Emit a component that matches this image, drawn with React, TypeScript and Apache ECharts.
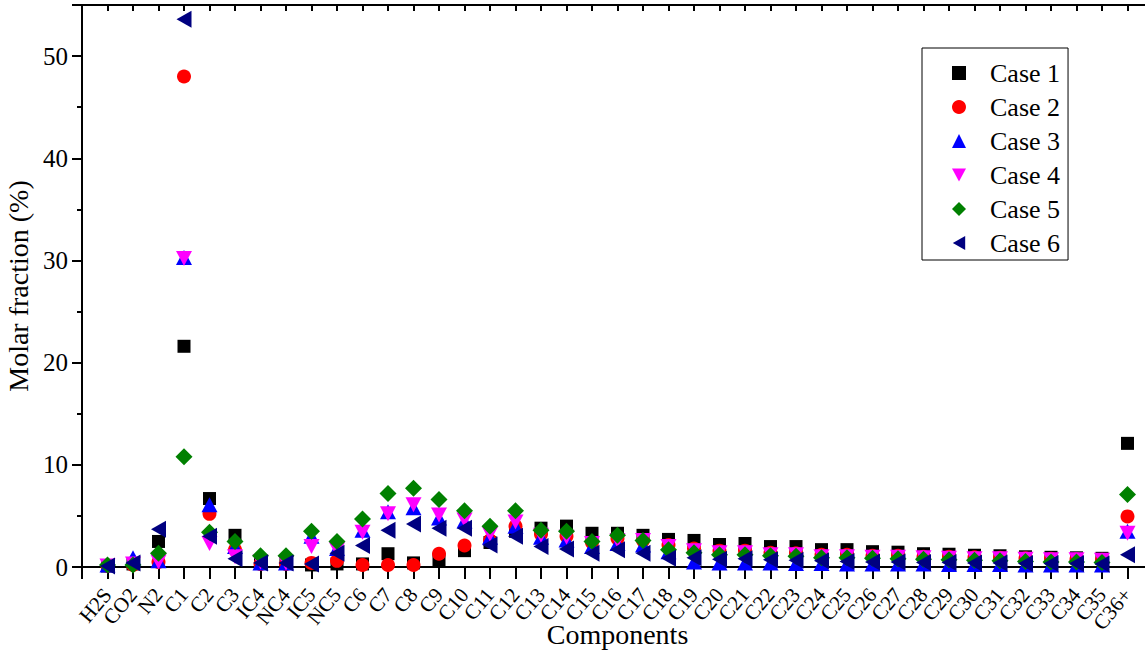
import React, { useEffect, useRef } from "react";
import * as echarts from "echarts";

const categories = [
  "H2S", "CO2", "N2", "C1", "C2", "C3", "IC4", "NC4", "IC5", "NC5",
  "C6", "C7", "C8", "C9", "C10", "C11", "C12", "C13", "C14", "C15",
  "C16", "C17", "C18", "C19", "C20", "C21", "C22", "C23", "C24", "C25",
  "C26", "C27", "C28", "C29", "C30", "C31", "C32", "C33", "C34", "C35", "C36+",
];

const case1 = [
  0.1, 0.3, 2.5, 21.6, 6.7, 3.1, 0.4, 0.4, 0.2, 0.3,
  0.3, 1.3, 0.4, 0.7, 1.6, 2.4, 3.5, 3.8, 4.0, 3.3,
  3.3, 3.1, 2.7, 2.6, 2.2, 2.3, 2.0, 2.0, 1.7, 1.7,
  1.5, 1.45, 1.3, 1.25, 1.15, 1.1, 1.0, 0.95, 0.9, 0.85, 12.1,
];
const case2 = [
  0.1, 0.2, 0.5, 48.0, 5.2, 1.7, 0.3, 0.3, 0.4, 0.6,
  0.2, 0.2, 0.2, 1.3, 2.1, 2.6, 4.0, 3.2, 3.0, 2.4,
  2.8, 2.6, 2.15, 1.8, 1.6, 1.6, 1.4, 1.35, 1.2, 1.2,
  1.1, 1.1, 1.0, 1.0, 0.95, 0.9, 0.85, 0.8, 0.75, 0.7, 4.95,
];
const case3 = [
  0.2, 0.9, 0.6, 30.3, 6.1, 2.0, 0.4, 0.4, 3.0, 1.8,
  3.6, 5.4, 5.8, 4.8, 4.5, 2.9, 4.0, 2.9, 2.65, 2.0,
  2.3, 2.15, 1.5, 0.5, 0.4, 0.4, 0.4, 0.35, 0.35, 0.3,
  0.3, 0.3, 0.3, 0.25, 0.25, 0.25, 0.2, 0.2, 0.2, 0.2, 3.5,
];
const case4 = [
  0.1, 0.3, 0.5, 30.2, 2.3, 1.0, 0.5, 0.4, 2.0, 1.7,
  3.4, 5.2, 6.1, 5.1, 4.6, 3.2, 4.4, 3.1, 2.9, 2.3,
  2.6, 2.6, 2.0, 1.6, 1.4, 1.4, 1.2, 1.2, 1.0, 1.0,
  0.95, 0.95, 0.9, 0.85, 0.8, 0.8, 0.75, 0.7, 0.7, 0.65, 3.3,
];
const case5 = [
  0.2, 0.2, 1.35, 10.8, 3.4, 2.5, 1.1, 1.1, 3.5, 2.5,
  4.7, 7.2, 7.7, 6.6, 5.5, 4.0, 5.5, 3.6, 3.5, 2.5,
  3.1, 2.6, 1.7, 1.4, 1.2, 1.2, 1.1, 1.05, 0.9, 0.9,
  0.85, 0.8, 0.75, 0.7, 0.65, 0.6, 0.55, 0.5, 0.5, 0.45, 7.1,
];
const case6 = [
  0.1, 0.4, 3.7, 53.6, 3.0, 0.8, 0.4, 0.4, 0.3, 1.35,
  2.1, 3.6, 4.2, 3.8, 3.8, 2.15, 3.0, 2.0, 1.75, 1.35,
  1.7, 1.35, 0.85, 0.9, 0.75, 0.8, 0.7, 0.65, 0.6, 0.55,
  0.5, 0.5, 0.45, 0.45, 0.4, 0.4, 0.35, 0.35, 0.35, 0.3, 1.2,
];

const seriesNames = ["Case 1", "Case 2", "Case 3", "Case 4", "Case 5", "Case 6"];
const yTicks = [0, 10, 20, 30, 40, 50];

const FONT = "'Liberation Serif', 'Times New Roman', serif";

export default function App() {
  const ref = useRef<HTMLDivElement>(null);

  useEffect(() => {
    if (!ref.current) return;
    const chart = echarts.init(ref.current, undefined, { renderer: "svg" });
    const axisCats = ["", ...categories, " "];
    const toData = (vals: number[]) => categories.map((c, i) => [c, vals[i]]);

    const styles = [
      { data: case1, symbol: "rect", size: 13, rotate: 0, color: "#000000", icon: "rect" },
      { data: case2, symbol: "circle", size: 14, rotate: 0, color: "#ff0000", icon: "circle" },
      { data: case3, symbol: "triangle", size: [16, 15], rotate: 0, color: "#0000ff", icon: "triangle" },
      {
        data: case4, symbol: "triangle", size: [16, 15], rotate: 180, color: "#ff00ff",
        icon: "path://M0,0L16,0L8,15Z",
      },
      { data: case5, symbol: "diamond", size: 17, rotate: 0, color: "#008000", icon: "diamond" },
      {
        data: case6, symbol: "triangle", size: [17, 15], rotate: 90, color: "#000080",
        icon: "path://M15,0L15,17L0,8.5Z",
      },
    ];

    const black = { color: "#000", width: 2 };

    chart.setOption({
      animation: false,
      backgroundColor: "#ffffff",
      textStyle: { fontFamily: FONT },
      grid: {
        left: 82,
        right: -8,
        top: 5,
        bottom: 91,
        containLabel: false,
        outerBoundsMode: "none",
      },
      legend: {
        orient: "vertical",
        left: 922,
        top: 48,
        padding: [12, 8, 4, 30],
        itemWidth: 14,
        itemHeight: 14,
        itemGap: 8,
        borderColor: "#000",
        borderWidth: 1,
        textStyle: { fontFamily: FONT, fontSize: 26, color: "#000", padding: [0, 0, 0, 19] },
        data: seriesNames.map((n, i) => ({ name: n, icon: styles[i].icon })),
      },
      xAxis: [
        {
          type: "category",
          data: axisCats,
          boundaryGap: false,
          name: "Components",
          nameLocation: "middle",
          nameGap: 53,
          nameMoveOverlap: false,
          nameTextStyle: { fontFamily: FONT, fontSize: 28, color: "#000" },
          axisLine: { show: true, lineStyle: black },
          axisTick: { show: true, inside: false, length: 12, interval: 0, lineStyle: black },
          axisLabel: {
            interval: 0,
            rotate: 50,
            margin: 24,
            fontFamily: FONT,
            fontSize: 21,
            color: "#000",
          },
          splitLine: { show: false },
        },
        {
          type: "category",
          position: "top",
          data: axisCats,
          boundaryGap: false,
          axisLine: { show: true, lineStyle: black },
          axisTick: { show: true, inside: true, length: 6, interval: 0, lineStyle: black },
          axisLabel: { show: false },
          splitLine: { show: false },
        },
      ],
      yAxis: {
        type: "value",
        min: 0,
        max: 55,
        interval: 10,
        name: "Molar fraction (%)",
        nameLocation: "middle",
        nameGap: 40,
        nameTextStyle: { fontFamily: FONT, fontSize: 28, color: "#000" },
        axisLine: { show: true, lineStyle: black },
        axisTick: { show: true, inside: false, length: 10, lineStyle: black },
        minorTick: { show: true, splitNumber: 2, length: 5, lineStyle: black },
        axisLabel: {
          margin: 14,
          fontFamily: FONT,
          fontSize: 25,
          color: "#000",
          formatter: (v: number) => (yTicks.includes(v) ? String(v) : ""),
        },
        splitLine: { show: false },
      },
      series: styles.map((s, i) => ({
        name: seriesNames[i],
        type: "scatter",
        xAxisIndex: 0,
        data: toData(s.data),
        symbol: s.symbol,
        symbolSize: s.size,
        symbolRotate: s.rotate,
        itemStyle: { color: s.color, opacity: 1 },
        z: 2 + i,
      })),
    });

    return () => chart.dispose();
  }, []);

  return (
    <div
      ref={ref}
      style={{ position: "fixed", left: 0, top: 0, width: 1145, height: 658, background: "#fff" }}
    />
  );
}
